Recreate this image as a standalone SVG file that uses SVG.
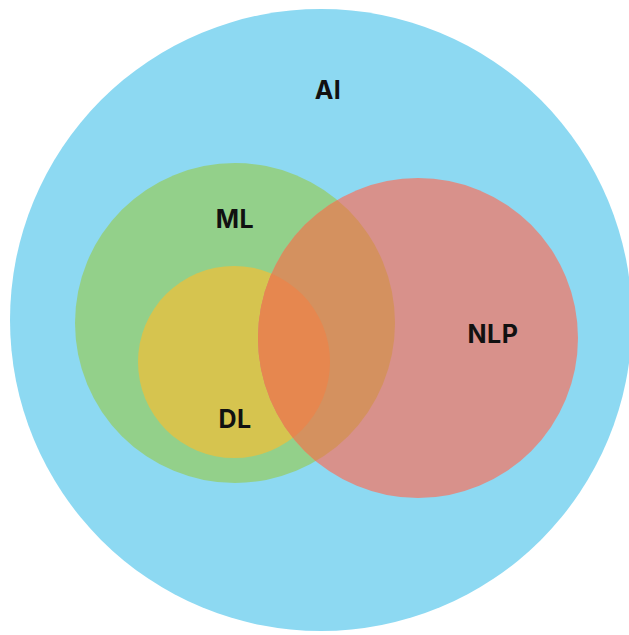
<svg xmlns="http://www.w3.org/2000/svg" width="629" height="635" viewBox="0 0 629 635">
<style>
.lbl{font-family:"Inter","Open Sans","Liberation Sans",sans-serif;font-weight:700;font-size:25px;fill:#111;text-anchor:middle;letter-spacing:0.5px}
</style>
<defs>
<clipPath id="cNLP"><circle cx="418" cy="338" r="160"/></clipPath>
</defs>
<rect width="629" height="635" fill="#fff"/>
<g id="AI">
<circle cx="321" cy="320" r="311" fill="#8DD9F2"/>
<text class="lbl" x="328" y="99">AI</text>
</g>
<g id="ML">
<circle cx="235" cy="323" r="160" fill="#93D08A"/>
</g>
<g id="DL">
<circle cx="234" cy="362" r="96" fill="#D6C44F"/>
</g>
<g id="NLP">
<circle cx="418" cy="338" r="160" fill="#D8918B"/>
<g clip-path="url(#cNLP)">
<circle cx="235" cy="323" r="160" fill="#D4915F"/>
<circle cx="234" cy="362" r="96" fill="#E6874F"/>
</g>
<text class="lbl" x="493" y="343">NLP</text>
</g>
<g id="labels">
<text class="lbl" x="235" y="228">ML</text>
<text class="lbl" x="235" y="428">DL</text>
</g>
</svg>
